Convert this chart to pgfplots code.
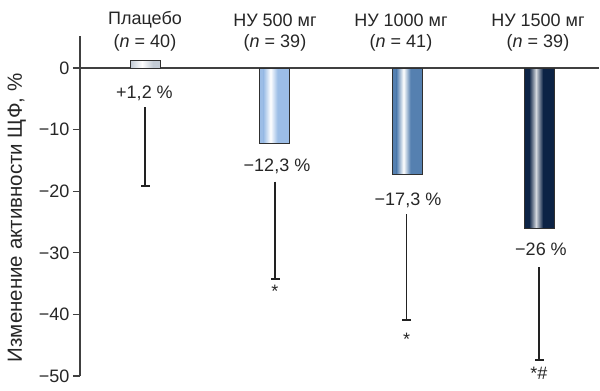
\documentclass[border=0pt]{standalone}
\usepackage{fontspec}
\setmainfont{Liberation Sans}
\usepackage{pgfplots}
\pgfplotsset{compat=1.18}
\definecolor{axisgray}{HTML}{404040}
\definecolor{barborder}{HTML}{303030}
\definecolor{cplac}{HTML}{C4CCD6}
\definecolor{cfive}{HTML}{9CBDE6}
\definecolor{cthou}{HTML}{5580B0}
\definecolor{cfift}{HTML}{0C2345}
\definecolor{whisk}{HTML}{222222}
\newcommand{\shbar}[6]{%
  \addplot[ybar, bar shift=0pt, bar width=30, fill=#3, draw=none, forget plot] coordinates {(#1,#2)};
  \addplot[ybar, bar shift=0pt, bar width=#6, draw=none, left color=#3, right color=#3, middle color=#4, forget plot] coordinates {(#5,#2)};
  \addplot[ybar, bar shift=0pt, bar width=30, draw=barborder, fill=none, line width=0.9pt, forget plot] coordinates {(#1,#2)};
}
\begin{document}
\begin{tikzpicture}[font=\fontsize{18}{20}\selectfont]
\begin{axis}[
  scale only axis, width=519pt, height=340pt,
  xmin=80, xmax=599, ymin=-50, ymax=5.2,
  axis x line=none, axis y line*=left,
  axis line style={draw=axisgray, line width=1.3pt},
  xtick=\empty,
  ytick={-50,-40,-30,-20,-10,0},
  yticklabels={−50,−40,−30,−20,−10,0},
  tick align=outside, major tick length=7pt,
  tick style={draw=axisgray, line width=1.3pt},
  yticklabel style={font=\fontsize{18}{20}\selectfont, text=black!85},
  ylabel={Изменение активности ЩФ, \%},
  ylabel style={at={(axis description cs:-0.1216,0.465)}, anchor=center, rotate=0, font=\fontsize{20.5}{22}\selectfont, text=black!85},
  clip=false,
]
% zero line
\addplot[draw=axisgray, line width=1.3pt, forget plot] coordinates {(80,0) (599,0)};
% bars
\shbar{145}{1.2}{cplac}{white}{142}{22}
\shbar{274}{-12.3}{cfive}{white}{270.5}{14}
\shbar{407}{-17.3}{cthou}{white}{403.5}{14}
\shbar{539.5}{-26}{cfift}{white!82!cfift}{536}{14}
% whiskers
\addplot[draw=whisk, line width=1.1pt, forget plot] coordinates {(145,-6.33) (145,-19.1)};
\addplot[draw=whisk, line width=1.1pt, forget plot] coordinates {(275,-18.46) (275,-34.25)};
\addplot[draw=whisk, line width=1.1pt, forget plot] coordinates {(406.7,-23.7) (406.7,-40.9)};
\addplot[draw=whisk, line width=1.1pt, forget plot] coordinates {(539,-32.35) (539,-47.4)};
\addplot[only marks, mark=-, mark size=4.5pt, mark options={draw=whisk, line width=1.8pt}, forget plot]
  coordinates {(145,-19.1) (275,-34.25) (406.7,-40.9) (539,-47.4)};
% top labels
\node[font=\fontsize{18}{20}\selectfont, text=black!85] at (axis cs:145,7.79) {Плацебо};
\node[font=\fontsize{18}{20}\selectfont, text=black!85] at (axis cs:145,4.06) {(\textit{n} = 40)};
\node[font=\fontsize{18}{20}\selectfont, text=black!85] at (axis cs:275,7.79) {НУ 500 мг};
\node[font=\fontsize{18}{20}\selectfont, text=black!85] at (axis cs:275,4.06) {(\textit{n} = 39)};
\node[font=\fontsize{18}{20}\selectfont, text=black!85] at (axis cs:401,7.79) {НУ 1000 мг};
\node[font=\fontsize{18}{20}\selectfont, text=black!85] at (axis cs:401,4.06) {(\textit{n} = 41)};
\node[font=\fontsize{18}{20}\selectfont, text=black!85] at (axis cs:538,7.79) {НУ 1500 мг};
\node[font=\fontsize{18}{20}\selectfont, text=black!85] at (axis cs:538,4.06) {(\textit{n} = 39)};
% value labels
\node[font=\fontsize{18}{20}\selectfont, text=black!85] at (axis cs:144.5,-4.14) {+1,2 \%};
\node[font=\fontsize{18}{20}\selectfont, text=black!85] at (axis cs:277,-15.9) {−12,3 \%};
\node[font=\fontsize{18}{20}\selectfont, text=black!85] at (axis cs:408,-21.5) {−17,3 \%};
\node[font=\fontsize{18}{20}\selectfont, text=black!85] at (axis cs:541,-29.4) {−26 \%};
% significance marks
\node[anchor=base, font=\fontsize{18}{20}\selectfont, text=black!85] at (axis cs:275,-37.3) {*};
\node[anchor=base, font=\fontsize{18}{20}\selectfont, text=black!85] at (axis cs:406.7,-45.1) {*};
\node[anchor=base, font=\fontsize{18}{20}\selectfont, text=black!85] at (axis cs:539,-50.6) {*\#};
\end{axis}
\pgfresetboundingbox
\path ([xshift=-80pt,yshift=-15pt]current axis.south west) rectangle ([xshift=1pt,yshift=36pt]current axis.north east);
\end{tikzpicture}
\end{document}
